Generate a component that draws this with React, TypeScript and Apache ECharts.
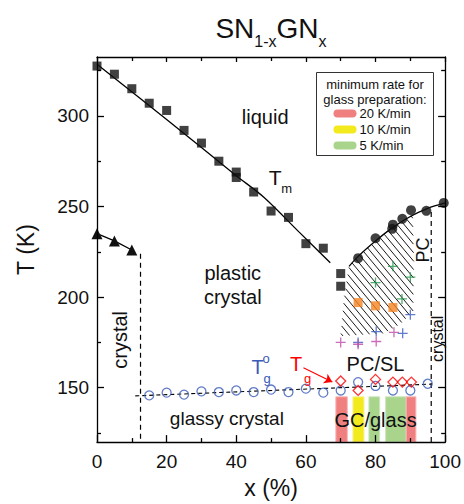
import React, { useEffect, useRef } from "react";
import * as echarts from "echarts";

const FONT = "'Liberation Sans', Arial, Helvetica, sans-serif";
const INK = "#111";

// axis ranges and ticks
const X_MIN = 0;
const X_MAX = 100;
const T_MIN = 120;
const T_MAX = 332.5;
const tMajorTicks = [150, 200, 250, 300];
const tMinorTicks = [125, 175, 225, 275, 325];

// melting points Tm (x %, T K)
const tmSquares = [
  [0, 327.5], [5, 323], [10, 315], [15, 307], [20, 303], [25, 292], [30, 285],
  [35, 275], [40, 269], [40, 266], [45, 258], [50, 247.5], [55, 244], [60, 229.5],
  [65, 227], [70, 213], [70, 206],
];
const tmFit = [[0, 328.5], [20, 298], [40, 267], [48, 255], [58, 236], [67, 219]];

// crystal -> plastic crystal transition
const crystalTri = [[0, 235], [5, 231], [10, 226]];

// plastic crystal -> liquid (right side)
const pcCircles = [
  [75, 221.5], [80, 232.5], [84.8, 237.7], [85, 240], [87.7, 243.2], [90.2, 248],
  [94.6, 247.6], [99.6, 252],
];
const pcFit = [[72.4, 217], [75, 222.5], [80, 231], [85, 238.5], [90, 244.5], [95, 249], [100, 252]];

// hatched region (data coordinates)
const hatchPolygon = [
  [70, 178.5], [71, 200], [72.4, 217], [75, 222.5], [80, 231], [85, 238.5], [88, 242.5],
  [90.7, 245.5], [91, 220], [90.8, 192], [87, 185], [82.5, 180],
];

// other transition points inside the hatched region
const orangeSquares = [[75, 197], [80, 195.2], [85, 194.3]];
const greenPlus = [[80, 208], [85, 217], [87.6, 199], [90, 211]];
const bluePlus = [[75, 175], [80.2, 181], [87.8, 180], [90, 190.3]];
const magentaPlus = [[70, 175], [75, 174], [80.2, 175.5], [85.3, 180.6]];

// glass transitions
const tgCircles = [
  [15, 145.8], [20, 147.3], [25, 146.2], [30, 148], [35, 147.6], [40, 148.5], [45, 147.6],
  [50, 149], [55, 147.6], [60, 149.5], [65, 147.3], [70, 148.5], [75, 153.1], [80, 151],
  [85, 148.5], [90, 148.5], [95, 152.2],
];
const tgDiamonds = [[70, 153.7], [75, 148.5], [80, 154.6], [85, 153.1], [87.7, 153.1], [90.3, 153.1]];
const tgFit = [[11, 145.5], [96, 152]];

// phase boundaries (dashed)
const leftDash = [[12.5, 224], [12.5, T_MIN]];
const rightDash = [[96, 247], [96, T_MIN]];

// arrow pointing to Tg
const arrowFrom = [59.3, 161];
const arrowTo = [67.6, 153.2];

// glass-forming bars: [x start, x end, rate index]
const barTop = 145;
const glassBars = [
  [68.6, 71.9, 0], [73.5, 76.7, 1], [78.1, 81.2, 2], [82.9, 88.8, 2], [88.8, 91.6, 0],
];
const rateLabels = ["20 K/min", "10 K/min", "5 K/min"];
const rateColors = ["#F08080", "#F3EA1E", "#A8D48C"];
const rateEdges = ["#F7B8B8", "#F8F29A", "#CDE6BE"];

// title pieces: [text, isSubscript]
const titleParts: [string, boolean][] = [["SN", false], ["1-x", true], ["GN", false], ["x", true]];

const plusPath = "path://M0,5L10,5M5,0L5,10";

function buildOption(): any {
  const tickLine = { color: "#000", width: 1.3 };
  const axisLine = { show: true, lineStyle: { color: "#000", width: 1.3 } };
  const yBase = { type: "value", min: T_MIN, max: T_MAX, splitLine: { show: false }, z: 10 };
  return {
    animation: false,
    backgroundColor: "#fff",
    grid: { left: 97, right: 17.5, top: 57, bottom: 59.5, containLabel: false },
    xAxis: [
      {
        type: "value", min: X_MIN, max: X_MAX, interval: 20, position: "bottom", z: 10,
        axisLine, splitLine: { show: false },
        axisTick: { inside: true, length: 7, lineStyle: tickLine },
        minorTick: { show: true, splitNumber: 2, length: 4, lineStyle: tickLine },
        axisLabel: { fontSize: 19, color: INK, margin: 10, fontFamily: FONT },
        name: "x (%)", nameLocation: "middle", nameGap: 33,
        nameTextStyle: { fontSize: 23, color: INK, fontFamily: FONT },
      },
      {
        type: "value", min: X_MIN, max: X_MAX, interval: 20, position: "top", z: 10,
        axisLine, splitLine: { show: false },
        axisTick: { inside: true, length: 5, lineStyle: tickLine },
        minorTick: { show: true, splitNumber: 2, length: 4, lineStyle: tickLine },
        axisLabel: { show: false },
      },
    ],
    yAxis: [
      {
        ...yBase, position: "left", axisLine,
        axisTick: { inside: true, length: 7, lineStyle: tickLine, customValues: tMajorTicks },
        axisLabel: { fontSize: 19, color: INK, margin: 8, fontFamily: FONT, customValues: tMajorTicks },
        name: "T (K)", nameLocation: "middle", nameGap: 60, nameRotate: 90,
        nameTextStyle: { fontSize: 23, color: INK, fontFamily: FONT },
      },
      {
        ...yBase, position: "left", axisLine: { show: false },
        axisTick: { inside: true, length: 4, lineStyle: tickLine, customValues: tMinorTicks },
        axisLabel: { show: false },
      },
      {
        ...yBase, position: "right", axisLine,
        axisTick: { inside: true, length: 7, lineStyle: tickLine, customValues: tMajorTicks },
        axisLabel: { show: false },
      },
      {
        ...yBase, position: "right", axisLine: { show: false },
        axisTick: { inside: true, length: 4, lineStyle: tickLine, customValues: tMinorTicks },
        axisLabel: { show: false },
      },
    ],
    series: [
      {
        type: "custom", name: "hatch", z: 1, silent: true,
        data: [hatchPolygon[0]],
        renderItem: (_params: any, api: any) => {
          const pts = hatchPolygon.map((p) => api.coord(p));
          const k = 1.2;
          const step = 7 * k;
          const us = pts.map((p: number[]) => p[1] - k * p[0]);
          const umin = Math.min(...us);
          const umax = Math.max(...us);
          const children: any[] = [];
          for (let c = Math.ceil(umin / step) * step; c <= umax; c += step) {
            const hits: number[][] = [];
            for (let i = 0; i < pts.length; i++) {
              const j = (i + 1) % pts.length;
              const ua = us[i];
              const ub = us[j];
              if ((ua <= c && ub > c) || (ub <= c && ua > c)) {
                const t = (c - ua) / (ub - ua);
                hits.push([pts[i][0] + t * (pts[j][0] - pts[i][0]), pts[i][1] + t * (pts[j][1] - pts[i][1])]);
              }
            }
            hits.sort((a, b) => a[1] - b[1]);
            for (let m = 0; m + 1 < hits.length; m += 2) {
              children.push({
                type: "line",
                shape: { x1: hits[m][0], y1: hits[m][1], x2: hits[m + 1][0], y2: hits[m + 1][1] },
                style: { stroke: "#000", lineWidth: 0.9 },
              });
            }
          }
          return { type: "group", children };
        },
      },
      {
        type: "custom", name: "glass bars", z: 1, silent: true,
        data: glassBars,
        encode: { x: [0, 1] },
        renderItem: (_params: any, api: any) => {
          const x0 = api.value(0);
          const x1 = api.value(1);
          const idx = api.value(2);
          const p0 = api.coord([x0, barTop]);
          const p1 = api.coord([x1, T_MIN]);
          return {
            type: "rect",
            shape: { x: p0[0], y: p0[1], width: p1[0] - p0[0], height: p1[1] - p0[1] },
            style: { fill: rateColors[idx], stroke: rateEdges[idx], lineWidth: 1 },
          };
        },
      },
      {
        type: "line", name: "Tm fit", data: tmFit, smooth: 0.3, symbol: "none", z: 3,
        lineStyle: { color: "#000", width: 1.3 },
      },
      {
        type: "line", name: "PC fit", data: pcFit, smooth: 0.3, symbol: "none", z: 3,
        lineStyle: { color: "#000", width: 1.3 },
      },
      {
        type: "line", name: "crystal", data: crystalTri, symbol: "triangle", symbolSize: 11,
        showSymbol: true, z: 4, itemStyle: { color: INK },
        lineStyle: { color: "#000", width: 1.3 },
      },
      {
        type: "line", name: "left boundary", data: leftDash, symbol: "none", z: 3,
        lineStyle: { color: "#000", width: 1.2, type: [5, 4] },
      },
      {
        type: "line", name: "right boundary", data: rightDash, symbol: "none", z: 3,
        lineStyle: { color: "#000", width: 1.2, type: [5, 4] },
      },
      {
        type: "line", name: "Tg fit", data: tgFit, symbol: "none", z: 3,
        lineStyle: { color: "#000", width: 1.1, type: [4, 3] },
      },
      {
        type: "scatter", name: "Tm", data: tmSquares, symbol: "rect", symbolSize: 9, z: 5,
        itemStyle: { color: INK },
      },
      {
        type: "scatter", name: "PC melting", data: pcCircles, symbol: "circle", symbolSize: 10, z: 5,
        itemStyle: { color: INK },
      },
      {
        type: "scatter", name: "orange", data: orangeSquares, symbol: "rect", symbolSize: 9, z: 5,
        itemStyle: { color: "#F5821F" },
      },
      {
        type: "scatter", name: "green", data: greenPlus, symbol: plusPath, symbolSize: 10, z: 5,
        itemStyle: { color: "rgba(0,0,0,0)", borderColor: "#23964A", borderWidth: 1.3 },
      },
      {
        type: "scatter", name: "blue", data: bluePlus, symbol: plusPath, symbolSize: 10, z: 5,
        itemStyle: { color: "rgba(0,0,0,0)", borderColor: "#3A5BC0", borderWidth: 1.3 },
      },
      {
        type: "scatter", name: "magenta", data: magentaPlus, symbol: plusPath, symbolSize: 10, z: 5,
        itemStyle: { color: "rgba(0,0,0,0)", borderColor: "#C048A8", borderWidth: 1.3 },
      },
      {
        type: "scatter", name: "Tg o", data: tgCircles, symbol: "circle", symbolSize: 9, z: 5,
        itemStyle: { color: "rgba(255,255,255,0)", borderColor: "#3A5BB8", borderWidth: 1.3 },
      },
      {
        type: "scatter", name: "Tg", data: tgDiamonds, symbol: "diamond", symbolSize: 10, z: 6,
        itemStyle: { color: "rgba(255,255,255,0)", borderColor: "#FF0000", borderWidth: 1.3 },
      },
      {
        type: "lines", name: "arrow", coordinateSystem: "cartesian2d", z: 6,
        data: [{ coords: [arrowFrom, arrowTo] }],
        symbol: ["none", "arrow"], symbolSize: 8,
        lineStyle: { color: "#FF0000", width: 1.2, opacity: 1 },
      },
    ],
  };
}

function text(str: string, x: number, y: number, size: number, color = INK, rotation = 0, lineHeight?: number, align = "center"): any {
  return {
    type: "text", x, y, rotation, z: 100,
    style: {
      text: str, fontSize: size, fontFamily: FONT, fill: color,
      align, verticalAlign: "middle", textAlign: align, textVerticalAlign: "middle",
      lineHeight: lineHeight ?? Math.round(size * 1.2),
    },
  };
}

function measure(str: string, size: number): number {
  const c = document.createElement("canvas").getContext("2d");
  if (!c) return str.length * size * 0.6;
  c.font = `${size}px ${FONT}`;
  return c.measureText(str).width;
}

function buildGraphics(toPx: (p: number[]) => number[]): any[] {
  const g: any[] = [];
  const at = (p: number[]) => toPx(p);
  const R = Math.PI / 2;

  // title: main 28px (baseline 38.5), subscripts 16px (baseline 47)
  const mainSize = 28;
  const subSize = 16;
  const widths = titleParts.map(([s, sub]) => measure(s, sub ? subSize : mainSize));
  const total = widths.reduce((a, b) => a + b, 0);
  let cx = 271 - total / 2;
  titleParts.forEach(([s, sub], i) => {
    const size = sub ? subSize : mainSize;
    const baseline = sub ? 47 : 38.5;
    g.push(text(s, cx, baseline - 0.3465 * size, size, INK, 0, size, "left"));
    cx += widths[i];
  });

  // region labels
  let p = at([48.3, 299.6]); g.push(text("liquid", p[0], p[1], 20));
  p = at([39, 206.6]); g.push(text("plastic\ncrystal", p[0], p[1], 20, INK, 0, 24));
  p = at([37.3, 133]); g.push(text("glassy crystal", p[0], p[1], 19));
  p = at([80, 163.2]); g.push(text("PC/SL", p[0], p[1], 20));
  p = at([80, 132.1]); g.push(text("GC/glass", p[0], p[1], 20));
  p = at([6.7, 176.4]); g.push(text("crystal", p[0], p[1], 20, INK, R));
  p = at([93.6, 226]); g.push(text("PC", p[0], p[1], 18, INK, R));
  p = at([97.9, 177]); g.push(text("crystal", p[0], p[1], 16, INK, R));

  // T_m
  p = at([51.2, 266.2]);
  g.push(text("T", p[0], p[1], 21));
  g.push(text("m", p[0] + 11.5, p[1] + 11, 13));
  // T_g^o (blue)
  const blue = "#3A5BB8";
  p = at([46.1, 161.4]);
  g.push(text("T", p[0], p[1], 20, blue));
  g.push(text("o", p[0] + 8.5, p[1] - 8.5, 13, blue));
  g.push(text("g", p[0] + 9.5, p[1] + 11.5, 13, blue));
  // T_g (red)
  p = at([57.2, 163.2]);
  g.push(text("T", p[0], p[1], 20, "#FF0000"));
  g.push(text("g", p[0] + 11.5, p[1] + 15, 13, "#FF0000"));

  // rate legend box
  const bx = 316.5, by = 72.5, bw = 117, bh = 83;
  g.push({
    type: "rect", z: 90,
    shape: { x: bx, y: by, width: bw, height: bh },
    style: { fill: "#fff", stroke: "#333", lineWidth: 1 },
  });
  g.push(text("minimum rate for", bx + bw / 2, by + 12, 13));
  g.push(text("glass preparation:", bx + bw / 2, by + 27, 13));
  rateLabels.forEach((lab, i) => {
    const yy = by + 41 + i * 16;
    g.push({
      type: "rect", z: 95,
      shape: { x: 333.5, y: yy - 4, width: 23, height: 8, r: 4 },
      style: { fill: rateColors[i] },
    });
    g.push(text(lab, 359.5, yy, 13, INK, 0, undefined, "left"));
  });
  return g;
}

export default function App() {
  const ref = useRef<HTMLDivElement>(null);
  useEffect(() => {
    const el = ref.current;
    if (!el) return;
    const chart = echarts.init(el, undefined, { renderer: "svg" });
    chart.setOption(buildOption());
    const toPx = (pt: number[]) => chart.convertToPixel({ xAxisIndex: 0, yAxisIndex: 0 }, pt) as number[];
    chart.setOption({ graphic: buildGraphics(toPx) });
    return () => chart.dispose();
  }, []);
  return (
    <div
      ref={ref}
      style={{ position: "absolute", left: 0, top: 0, width: 464, height: 504, background: "#fff" }}
    />
  );
}
